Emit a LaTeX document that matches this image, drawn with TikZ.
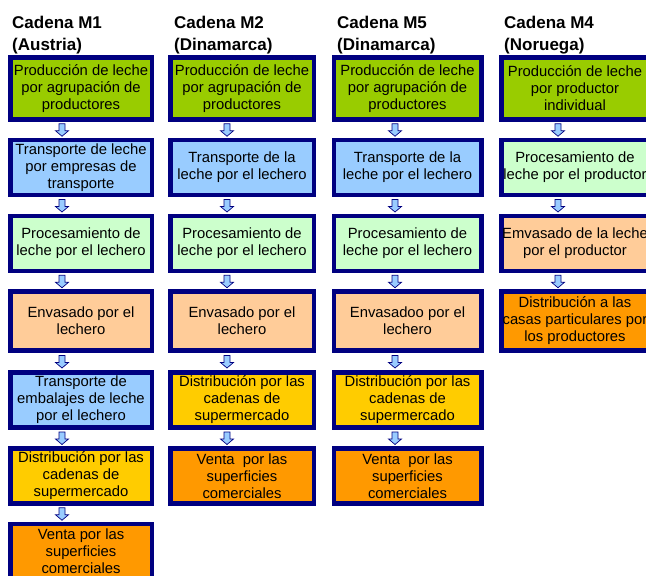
\documentclass[tikz,border=0pt]{standalone}
\usepackage{fontspec}
\setmainfont{Liberation Sans}
\usetikzlibrary{calc}
\definecolor{azulmarino}{RGB}{0,0,128}
\definecolor{verde}{RGB}{153,204,0}
\definecolor{celeste}{RGB}{153,204,255}
\definecolor{verdeclaro}{RGB}{204,255,204}
\definecolor{melocoton}{RGB}{255,204,153}
\definecolor{oro}{RGB}{255,204,0}
\definecolor{naranja}{RGB}{255,153,0}
\begin{document}
\begin{tikzpicture}[x=1pt,y=-1pt,
        caja/.style={draw=azulmarino,line width=4.5pt,minimum width=#1,minimum height=55pt,
            inner sep=0pt,align=center,font=\fontsize{14.8}{17}\selectfont},
        titulo/.style={anchor=north west,inner sep=0pt,align=left,font=\bfseries\fontsize{17}{22}\selectfont},
        flecha/.style={draw=azulmarino,fill=celeste,line width=0.7pt,
            to path={($(\tikztostart.south)!.5!(\tikztotarget.north)+(#1pt,0pt)$)
                +(-3,-6) -- +(3,-6) -- +(3,1) -- +(6.5,1) -- +(0,6.5) -- +(-6.5,1) -- +(-3,1) -- cycle}}]
        \useasboundingbox (0,0) rectangle (646,576);
        \node[titulo] (ta) at (12,15.5) {Cadena M1\\(Austria)};
        \node[titulo] (tb) at (174,15.5) {Cadena M2\\(Dinamarca)};
        \node[titulo] (tc) at (337,15.5) {Cadena M5\\(Dinamarca)};
        \node[titulo] (td) at (504,15.5) {Cadena M4\\(Noruega)};
        % cadena M1
        \begin{scope}[every node/.style={caja=141.5pt}]
            \node[fill=verde,minimum height=62pt] (a1) at (81,88.5) {Producción de leche\\por agrupación de\\productores};
            \node[fill=celeste] (a2) at (81,167.5) {Transporte de leche\\por empresas de\\transporte};
            \node[fill=verdeclaro] (a3) at (81,243.5) {Procesamiento de\\leche por el lechero};
            \node[fill=melocoton,minimum height=59pt] (a4) at (81,321) {Envasado por el\\lechero};
            \node[fill=celeste] (a5) at (81,400) {Transporte de\\embalajes de leche\\por el lechero};
            \node[fill=oro] (a6) at (81,476) {Distribución por las\\cadenas de\\supermercado};
            \node[fill=naranja] (a7) at (81,551.5) {Venta por las\\superficies\\comerciales};
        \end{scope}
        % cadena M2
        \begin{scope}[every node/.style={caja=143.5pt}]
            \node[fill=verde,minimum height=62pt] (b1) at (242,88.5) {Producción de leche\\por agrupación de\\productores};
            \node[fill=celeste] (b2) at (242,167.5) {Transporte de la\\leche por el lechero};
            \node[fill=verdeclaro] (b3) at (242,243.5) {Procesamiento de\\leche por el lechero};
            \node[fill=melocoton,minimum height=59pt] (b4) at (242,321) {Envasado por el\\lechero};
            \node[fill=oro] (b5) at (242,400) {Distribución por las\\cadenas de\\supermercado};
            \node[fill=naranja] (b6) at (242,476) {Venta\ \ por las\\superficies\\comerciales};
        \end{scope}
        % cadena M5
        \begin{scope}[every node/.style={caja=147.5pt}]
            \node[fill=verde,minimum height=62pt] (c1) at (407.5,88.5) {Producción de leche\\por agrupación de\\productores};
            \node[fill=celeste] (c2) at (407.5,167.5) {Transporte de la\\leche por el lechero};
            \node[fill=verdeclaro] (c3) at (407.5,243.5) {Procesamiento de\\leche por el lechero};
            \node[fill=melocoton,minimum height=59pt] (c4) at (407.5,321) {Envasadoo por el\\lechero};
            \node[fill=oro] (c5) at (407.5,400) {Distribución por las\\cadenas de\\supermercado};
            \node[fill=naranja] (c6) at (407.5,476) {Venta\ \ por las\\superficies\\comerciales};
        \end{scope}
        % cadena M4
        \begin{scope}[every node/.style={caja=147.5pt}]
            \node[fill=verde,minimum height=62pt] (d1) at (575,88.5) {Producción de leche\\por productor\\individual};
            \node[fill=verdeclaro] (d2) at (575,167.5) {Procesamiento de\\leche por el productor};
            \node[fill=melocoton] (d3) at (575,243.5) {Emvasado de la leche\\por el productor};
            \node[fill=naranja,minimum height=59pt] (d4) at (575,321) {Distribución a las\\casas particulares por\\los productores};
        \end{scope}
        \begin{scope}[every edge/.style={flecha=-19}]
            \path (a1) edge (a2) (a2) edge (a3) (a3) edge (a4)
                (a4) edge (a5) (a5) edge (a6) (a6) edge (a7);
        \end{scope}
        \begin{scope}[every edge/.style={flecha=-15}]
            \path (b1) edge (b2) (b2) edge (b3) (b3) edge (b4)
                (b4) edge (b5) (b5) edge (b6);
        \end{scope}
        \begin{scope}[every edge/.style={flecha=-12.5}]
            \path (c1) edge (c2) (c2) edge (c3) (c3) edge (c4)
                (c4) edge (c5) (c5) edge (c6);
        \end{scope}
        \begin{scope}[every edge/.style={flecha=-17}]
            \path (d1) edge (d2) (d2) edge (d3) (d3) edge (d4);
        \end{scope}
    \end{tikzpicture}
\end{document}
